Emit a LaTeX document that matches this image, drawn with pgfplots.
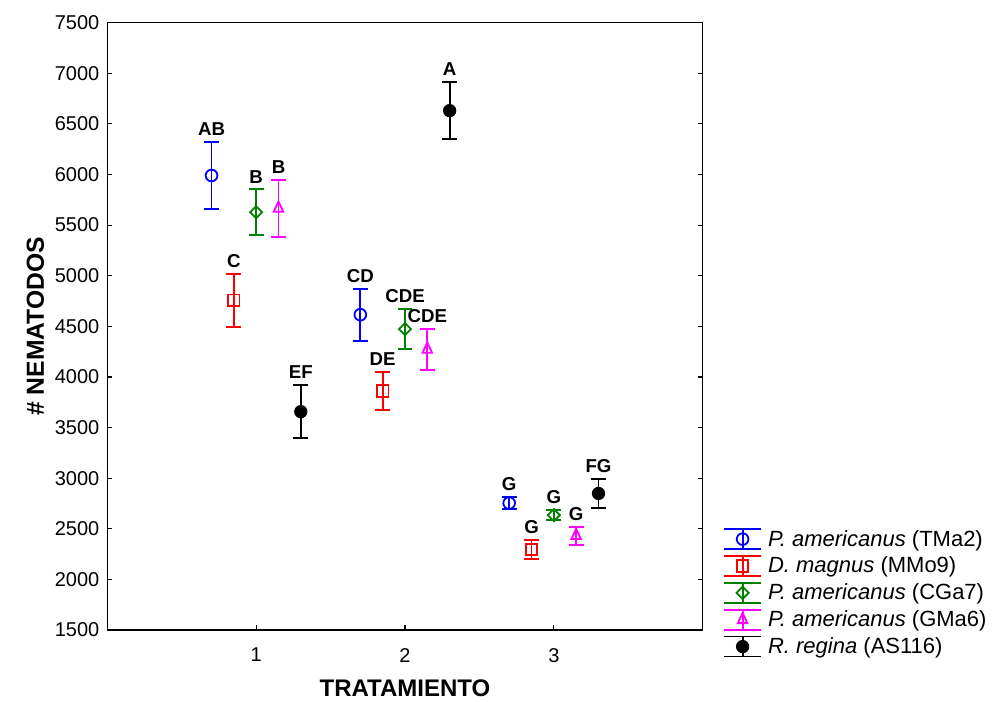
\documentclass[border=0pt]{standalone}
\usepackage{fontspec}
\setmainfont{Liberation Sans}
\usepackage{pgfplots}
\usepackage{pgfplotstable}
\pgfplotsset{compat=1.18}
\definecolor{cblue}{RGB}{0,0,255}
\definecolor{cred}{RGB}{255,0,0}
\definecolor{cgreen}{RGB}{0,128,0}
\definecolor{cmag}{RGB}{255,0,255}

\pgfplotstableread{
x y e lab
0.7 5990 334 AB
1.7 4615 257 CD
2.7 2754 57 G
}\tmaii
\pgfplotstableread{
x y e lab
0.85 4757 260 C
1.85 3862 188 DE
2.85 2296 94 G
}\mmoix
\pgfplotstableread{
x y e lab
1.0 5627 227 B
2.0 4472 196 CDE
3.0 2635 51 G
}\cgavii
\pgfplotstableread{
x y e lab
1.15 5666 280 B
2.15 4273 204 CDE
3.15 2432 89 G
}\gmavi
\pgfplotstableread{
x y e lab
1.3 3657 263 EF
2.3 6631 283 A
3.3 2849 140 FG
}\asxvi

\pgfplotsset{
  ebar/.style={only marks, line width=1.35pt,
    mark options={line width=0.8pt, solid},
    error bars/y dir=both, error bars/y explicit,
    error bars/error mark=-,
    error bars/error bar style={line width=1.35pt, solid},
    error bars/error mark options={rotate=90, line width=1.35pt, mark size=5.6pt}},
  lbl/.style={draw=none, mark=none, forget plot,
    nodes near coords, point meta=explicit symbolic,
    nodes near coords style={anchor=south, inner sep=0pt, yshift=4.5pt,
      text=black, font=\bfseries\fontsize{14}{16}\selectfont}},
  ebarlegend/.style={legend image code/.code={%
    \draw[##1, mark=none, line width=1.35pt] (0pt,-7.5pt) -- (0pt,7.5pt);
    \draw[##1, mark=none, line width=1.35pt] (-13.9pt,7.5pt) -- (13.9pt,7.5pt);
    \draw[##1, mark=none, line width=1.35pt] (-13.9pt,-7.5pt) -- (13.9pt,-7.5pt);
    \draw[##1, only marks] plot coordinates {(0pt,0pt)};
  }},
}

\begin{document}
\begin{tikzpicture}
\begin{axis}[
  name=ax,
  scale only axis,
  width=446.5pt, height=455.5pt,
  xmin=0, xmax=4, ymin=1500, ymax=7500,
  xtick={1,2,3},
  ytick={1500,2000,...,7500},
  xtick pos=bottom, ytick pos=both,
  tick align=inside,
  major tick length=3.75pt,
  axis line style={line width=0.9pt},
  tick style={line width=0.9pt, black},
  /pgf/number format/assume math mode=true,
  /pgf/number format/1000 sep={},
  ticklabel style={font=\fontsize{15}{18}\selectfont},
  xticklabel style={yshift=-10pt},
  yticklabel style={xshift=-2.5pt},
  xlabel={TRATAMIENTO},
  ylabel={\# NEMATODOS},
  xlabel style={at={(axis description cs:0.5,-0.096)}, anchor=center,
    font=\bfseries\fontsize{18}{21}\selectfont},
  ylabel style={at={(axis description cs:-0.121,0.5)}, anchor=center,
    font=\bfseries\fontsize{18.5}{22}\selectfont},
  legend style={at={(rel axis cs:1.034,0.168)}, anchor=north west,
    draw=none, fill=none, inner sep=0pt, row sep=3.8pt, column sep=4.5pt,
    nodes={inner sep=0pt, anchor=west},
    font=\fontsize{16.5}{19}\selectfont},
  legend cell align=left,
  ebarlegend,
]
\addplot[ebar, color=cblue, mark=o, mark size=4.4pt, mark options={fill=white}]
  table[x=x, y=y, y error=e] {\tmaii};
\addlegendentry{\textit{P. americanus} (TMa2)}
\addplot[ebar, color=cred, mark=square, mark size=4.3pt, mark options={fill=white}]
  table[x=x, y=y, y error=e] {\mmoix};
\addlegendentry{\textit{D. magnus} (MMo9)}
\addplot[ebar, color=cgreen, mark=square, mark size=3.2pt, mark options={fill=white, rotate=45}]
  table[x=x, y=y, y error=e] {\cgavii};
\addlegendentry{\textit{P. americanus} (CGa7)}
\addplot[ebar, color=cmag, mark=triangle, mark size=4.1pt, mark options={fill=white, yscale=1.25}]
  table[x=x, y=y, y error=e] {\gmavi};
\addlegendentry{\textit{P. americanus} (GMa6)}
\addplot[ebar, color=black, mark=*, mark size=4.3pt, mark options={fill=black}]
  table[x=x, y=y, y error=e] {\asxvi};
\addlegendentry{\textit{R. regina} (AS116)}

\addplot[lbl] table[x=x, y expr=\thisrow{y}+\thisrow{e}, meta=lab] {\tmaii};
\addplot[lbl] table[x=x, y expr=\thisrow{y}+\thisrow{e}, meta=lab] {\mmoix};
\addplot[lbl] table[x=x, y expr=\thisrow{y}+\thisrow{e}, meta=lab] {\cgavii};
\addplot[lbl] table[x=x, y expr=\thisrow{y}+\thisrow{e}, meta=lab] {\gmavi};
\addplot[lbl] table[x=x, y expr=\thisrow{y}+\thisrow{e}, meta=lab] {\asxvi};
\end{axis}
\pgfresetboundingbox
\path[use as bounding box] ([shift={(-80.5pt,-53.3pt)}]ax.south west) rectangle ([shift={(221.5pt,17pt)}]ax.north east);
\end{tikzpicture}
\end{document}
